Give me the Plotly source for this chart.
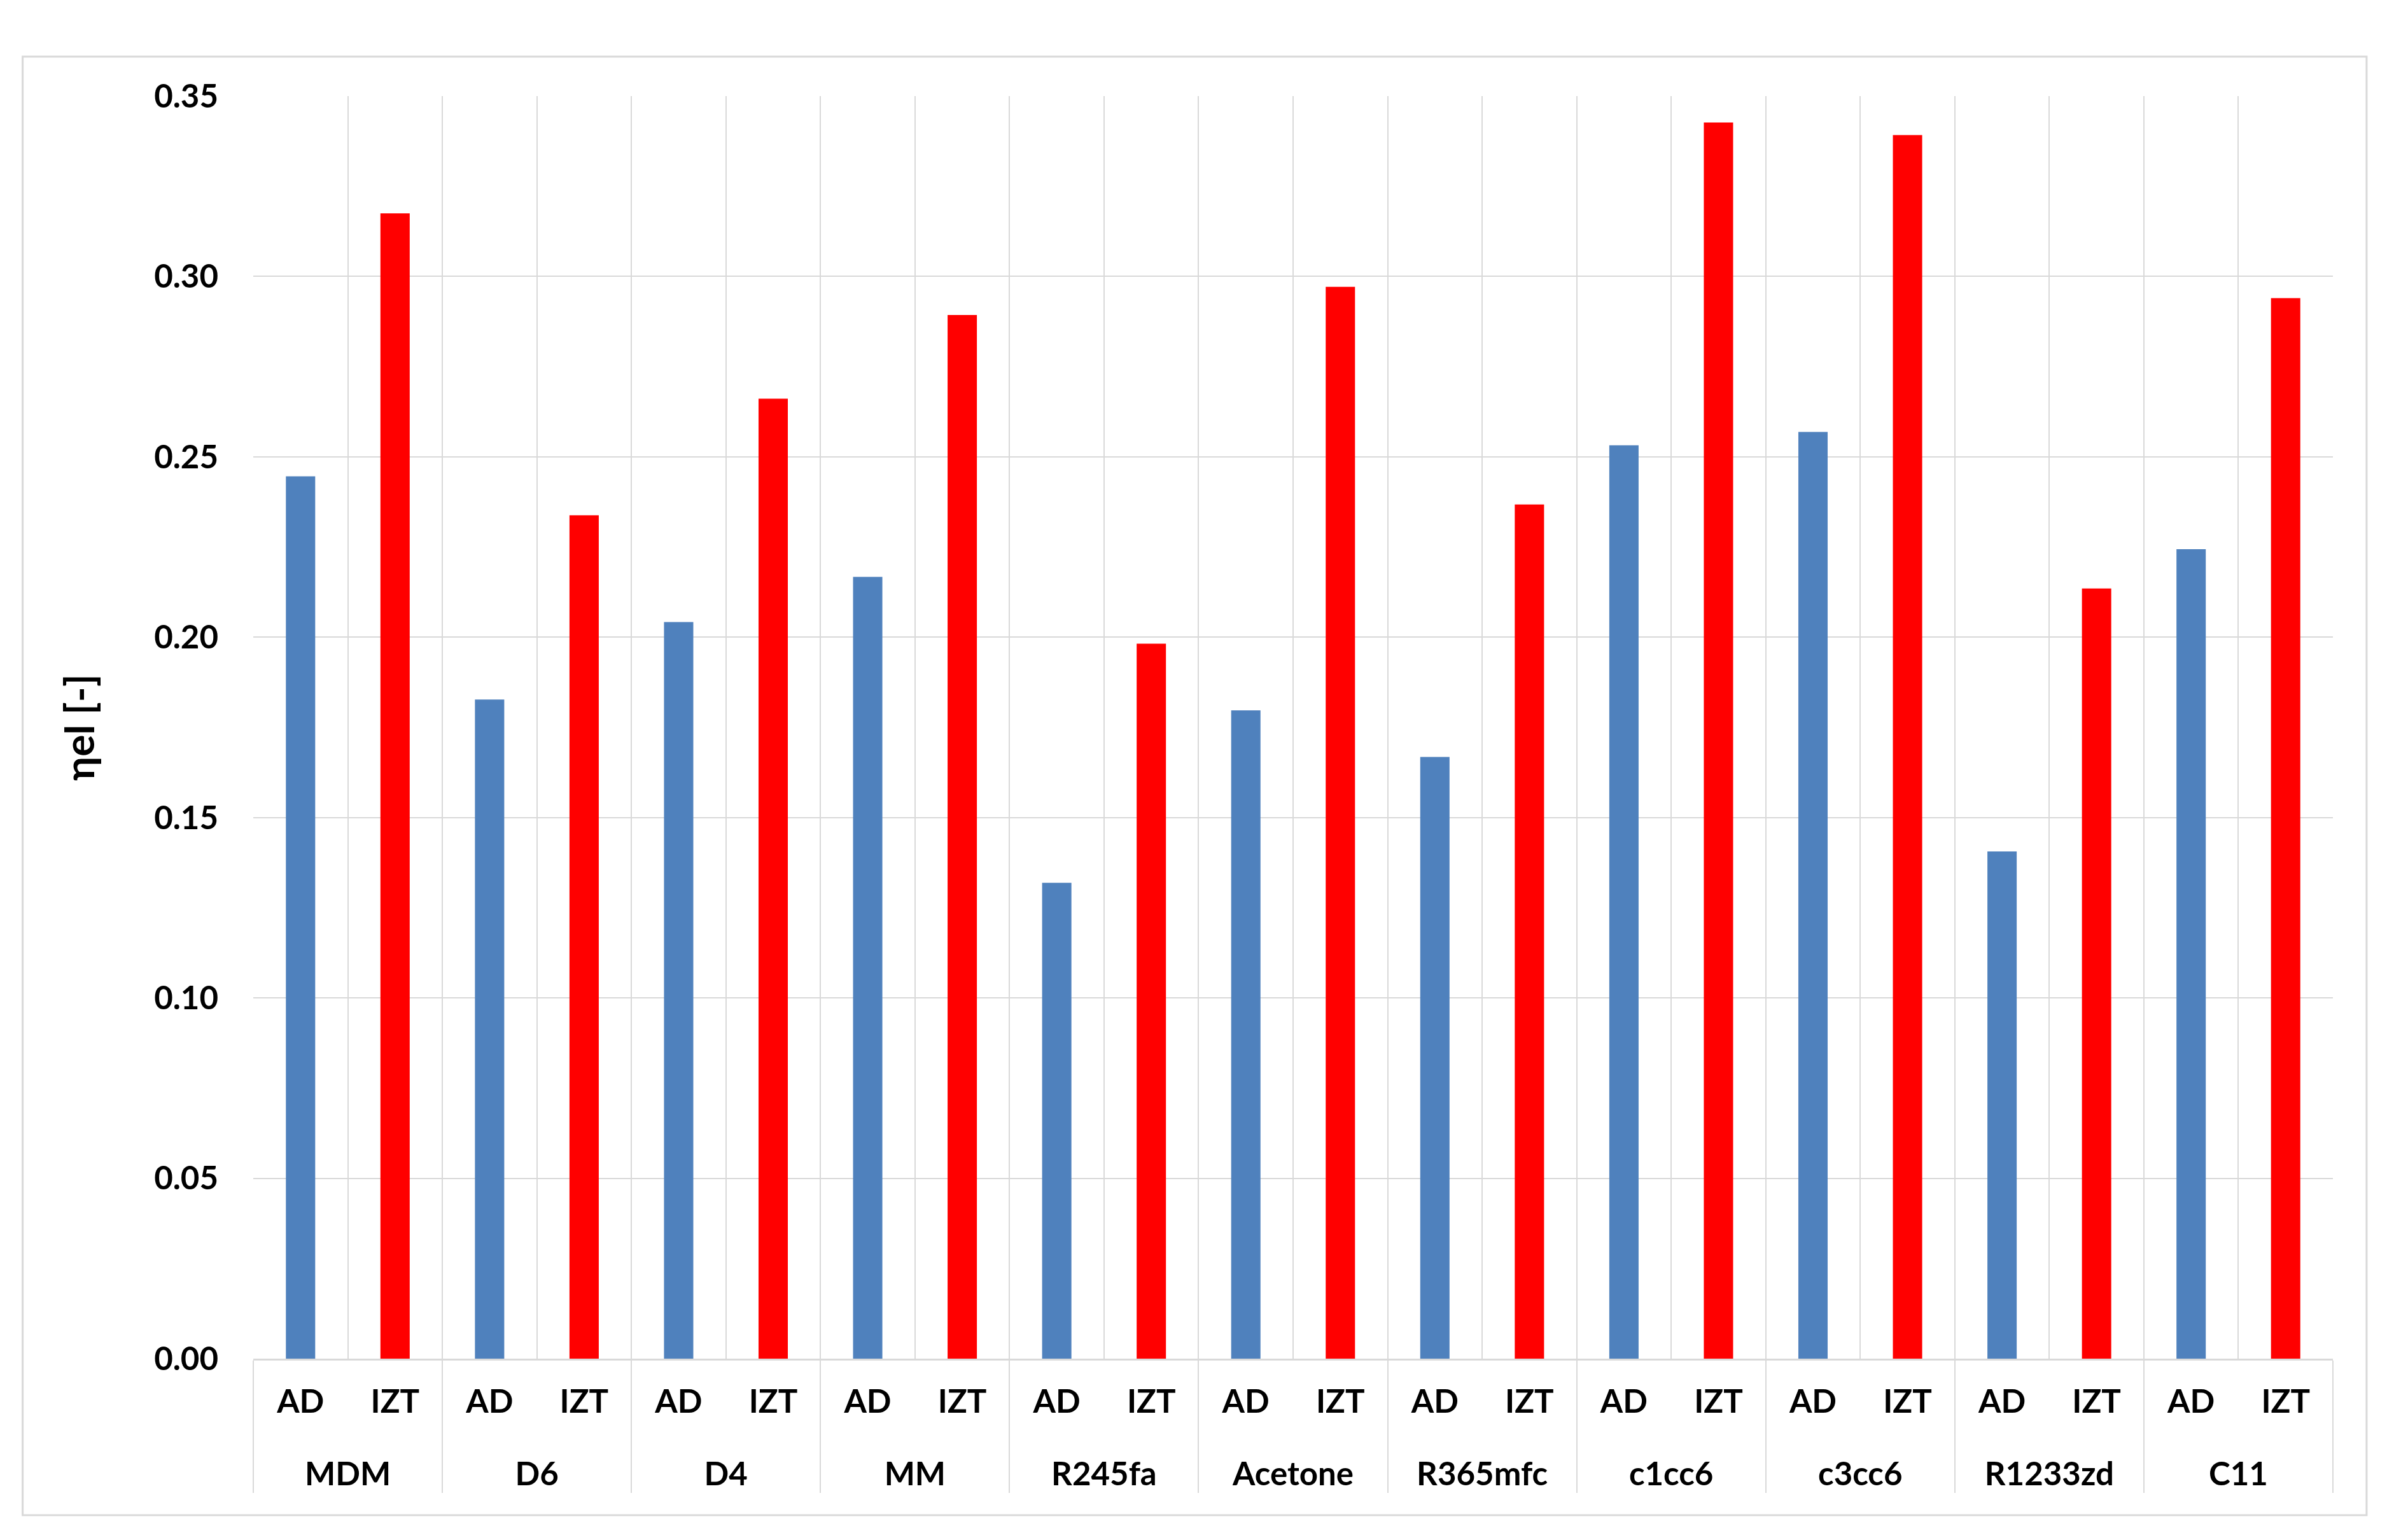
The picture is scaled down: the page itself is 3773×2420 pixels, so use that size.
import plotly.graph_objects as go

fluids = ["MDM", "D6", "D4", "MM", "R245fa", "Acetone", "R365mfc",
          "c1cc6", "c3cc6", "R1233zd", "C11"]
methods = ["AD", "IZT"]
ad_values = [0.2446, 0.1827, 0.2042, 0.2167, 0.1319, 0.1797, 0.1668,
             0.2532, 0.2569, 0.1406, 0.2244]
izt_values = [0.3175, 0.2338, 0.2661, 0.2893, 0.1982, 0.2971, 0.2368,
              0.3427, 0.3392, 0.2135, 0.2940]
method_colors = {"AD": "#4F81BD", "IZT": "#FF0000"}
y_ticks = [0.00, 0.05, 0.10, 0.15, 0.20, 0.25, 0.30, 0.35]
y_title = "ηel [-]"

LABEL_PX = 51
span = "<span style='font-size:%dpx'>%s</span>"

# interleave so each fluid shows AD then IZT
# (group labels get a leading line break to reproduce the wide row gap)
level1, level2, yvals, colors = [], [], [], []
for f, a, i in zip(fluids, ad_values, izt_values):
    for m, v in zip(methods, (a, i)):
        level1.append("<br>" + span % (LABEL_PX, f))
        level2.append(span % (LABEL_PX, m))
        yvals.append(v)
        colors.append(method_colors[m])

FONT = dict(family="Lato", size=LABEL_PX, color="#000000", weight="bold")
XFONT = dict(family="Lato", size=53, color="#000000", weight="bold")
TITLE_FONT = dict(family="Lato", size=64, color="#000000", weight="bold")
GRID = "#D9D9D9"

fig = go.Figure()
fig.add_trace(go.Bar(
    x=[level1, level2], y=yvals,
    marker=dict(color=colors, line=dict(width=0)),
    width=0.31, showlegend=False,
))

fig.update_layout(
    width=3773, height=2420,
    margin=dict(l=390, r=115, t=143, b=293, autoexpand=False),
    paper_bgcolor="white", plot_bgcolor="white",
    font=FONT,
    showlegend=False,
    shapes=[dict(type="rect", xref="paper", yref="paper",
                 x0=-0.1109, x1=1.0162, y0=-0.124, y1=1.0313,
                 line=dict(color=GRID, width=3), fillcolor="rgba(0,0,0,0)",
                 layer="below")],
)
fig.update_xaxes(
    type="multicategory",
    tickson="boundaries",
    showgrid=True, gridcolor=GRID, gridwidth=2,
    showline=True, linecolor=GRID, linewidth=3,
    ticks="",
    ticklabelstandoff=18,
    showdividers=True, dividercolor=GRID, dividerwidth=2,
    tickfont=XFONT,
)
fig.update_yaxes(
    range=[0, 0.35], tickvals=y_ticks, tickformat=".2f",
    showgrid=True, gridcolor=GRID, gridwidth=2,
    zeroline=False, showline=False, ticks="",
    ticklabelstandoff=54,
    tickfont=FONT,
    title=dict(text=y_title, font=TITLE_FONT, standoff=72),
)

fig.write_html("out.html")
